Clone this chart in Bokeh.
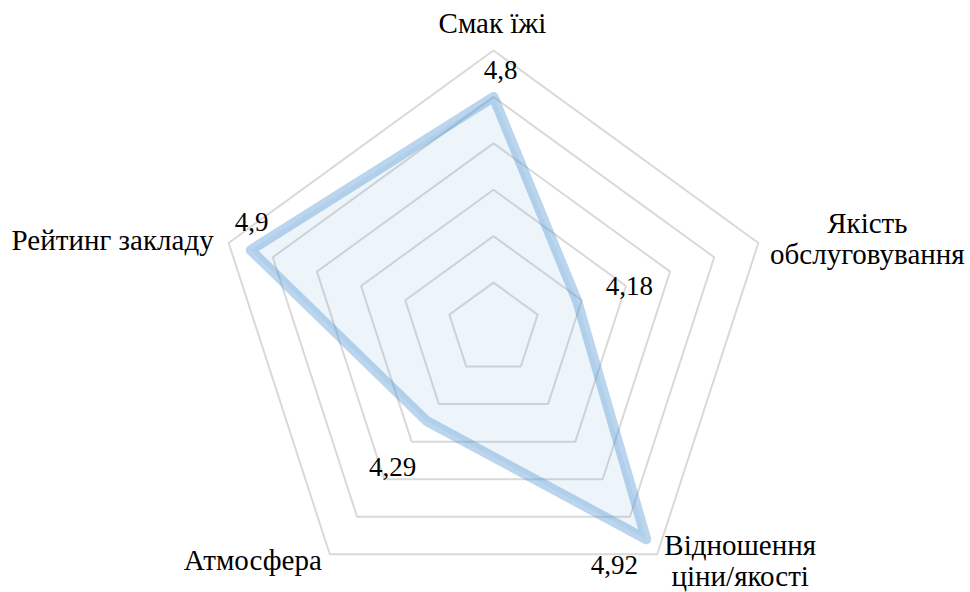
import numpy as np
from bokeh.plotting import figure
from bokeh.models import Range1d, Label
from bokeh.embed import file_html
from bokeh.resources import INLINE

# Radar chart data
categories = ["Смак їжі", "Якість\nобслуговування", "Відношення\nціни/якості",
              "Атмосфера", "Рейтинг закладу"]
scores = [4.8, 4.18, 4.92, 4.29, 4.9]
score_labels = ["4,8", "4,18", "4,92", "4,29", "4,9"]
ring_values = [4.0, 4.2, 4.4, 4.6, 4.8, 5.0]
scale_min = 3.8
scale_max = 5.0

# Layout (pixels)
W, H = 970, 592
PX = 278.5            # pixels per unit of radius
CX, CY = 493, 328.5   # centre of the radar in page pixels
FONT_NAME = "serif"
CAT_SIZE = "29px"
VAL_SIZE = "27px"

# label offsets in screen pixels (dx right, dy down), one per axis
cat_offsets = [(-1, -28), (109, -20), (83, -9), (-77, 6), (-15, -3)]
cat_align = ["center", "center", "center", "center", "right"]
cat_line_step = 31
val_offsets = [(7, -27), (52, -16), (-32, 26), (-34, 46), (1, -28)]

n = len(categories)
angles = np.deg2rad(90 - 72 * np.arange(n))


def radius(v):
    return (np.asarray(v, dtype=float) - scale_min) / (scale_max - scale_min)


p = figure(width=W, height=H, output_backend="svg", toolbar_location=None,
           x_range=Range1d(-CX / PX, (W - CX) / PX),
           y_range=Range1d(-(H - CY) / PX, CY / PX),
           min_border=0, min_border_left=0, min_border_right=0,
           min_border_top=0, min_border_bottom=0)
p.axis.visible = False
p.grid.visible = False
p.outline_line_color = None
p.background_fill_color = "white"
p.border_fill_color = "white"

# concentric pentagon grid
ring_xs, ring_ys = [], []
for rv in ring_values:
    r = float(radius(rv))
    ring_xs.append(list(r * np.cos(angles)))
    ring_ys.append(list(r * np.sin(angles)))
p.patches(ring_xs, ring_ys, fill_alpha=0, line_color="#D9D9D9", line_width=2)

# data polygon
rs = radius(scores)
px = rs * np.cos(angles)
py = rs * np.sin(angles)
p.patch(list(px), list(py), fill_color="#5B9BD5", fill_alpha=0.11,
        line_color="#5B9BD5", line_alpha=0.42, line_width=10,
        line_join="round")

# value labels next to each data point
for i in range(n):
    dx, dy = val_offsets[i]
    p.add_layout(Label(x=float(px[i] + dx / PX), y=float(py[i] - dy / PX),
                       text=score_labels[i], text_font=FONT_NAME,
                       text_font_size=VAL_SIZE, text_color="black",
                       text_align="center", text_baseline="alphabetic"))

# category labels around the outer ring
outer = float(radius(scale_max))
for i in range(n):
    vx = outer * np.cos(angles[i])
    vy = outer * np.sin(angles[i])
    dx, dy = cat_offsets[i]
    for j, line in enumerate(categories[i].split("\n")):
        p.add_layout(Label(x=float(vx + dx / PX),
                           y=float(vy - (dy + j * cat_line_step) / PX),
                           text=line, text_font=FONT_NAME,
                           text_font_size=CAT_SIZE, text_color="black",
                           text_align=cat_align[i],
                           text_baseline="alphabetic"))

open("out.html", "w").write(file_html(p, INLINE))
